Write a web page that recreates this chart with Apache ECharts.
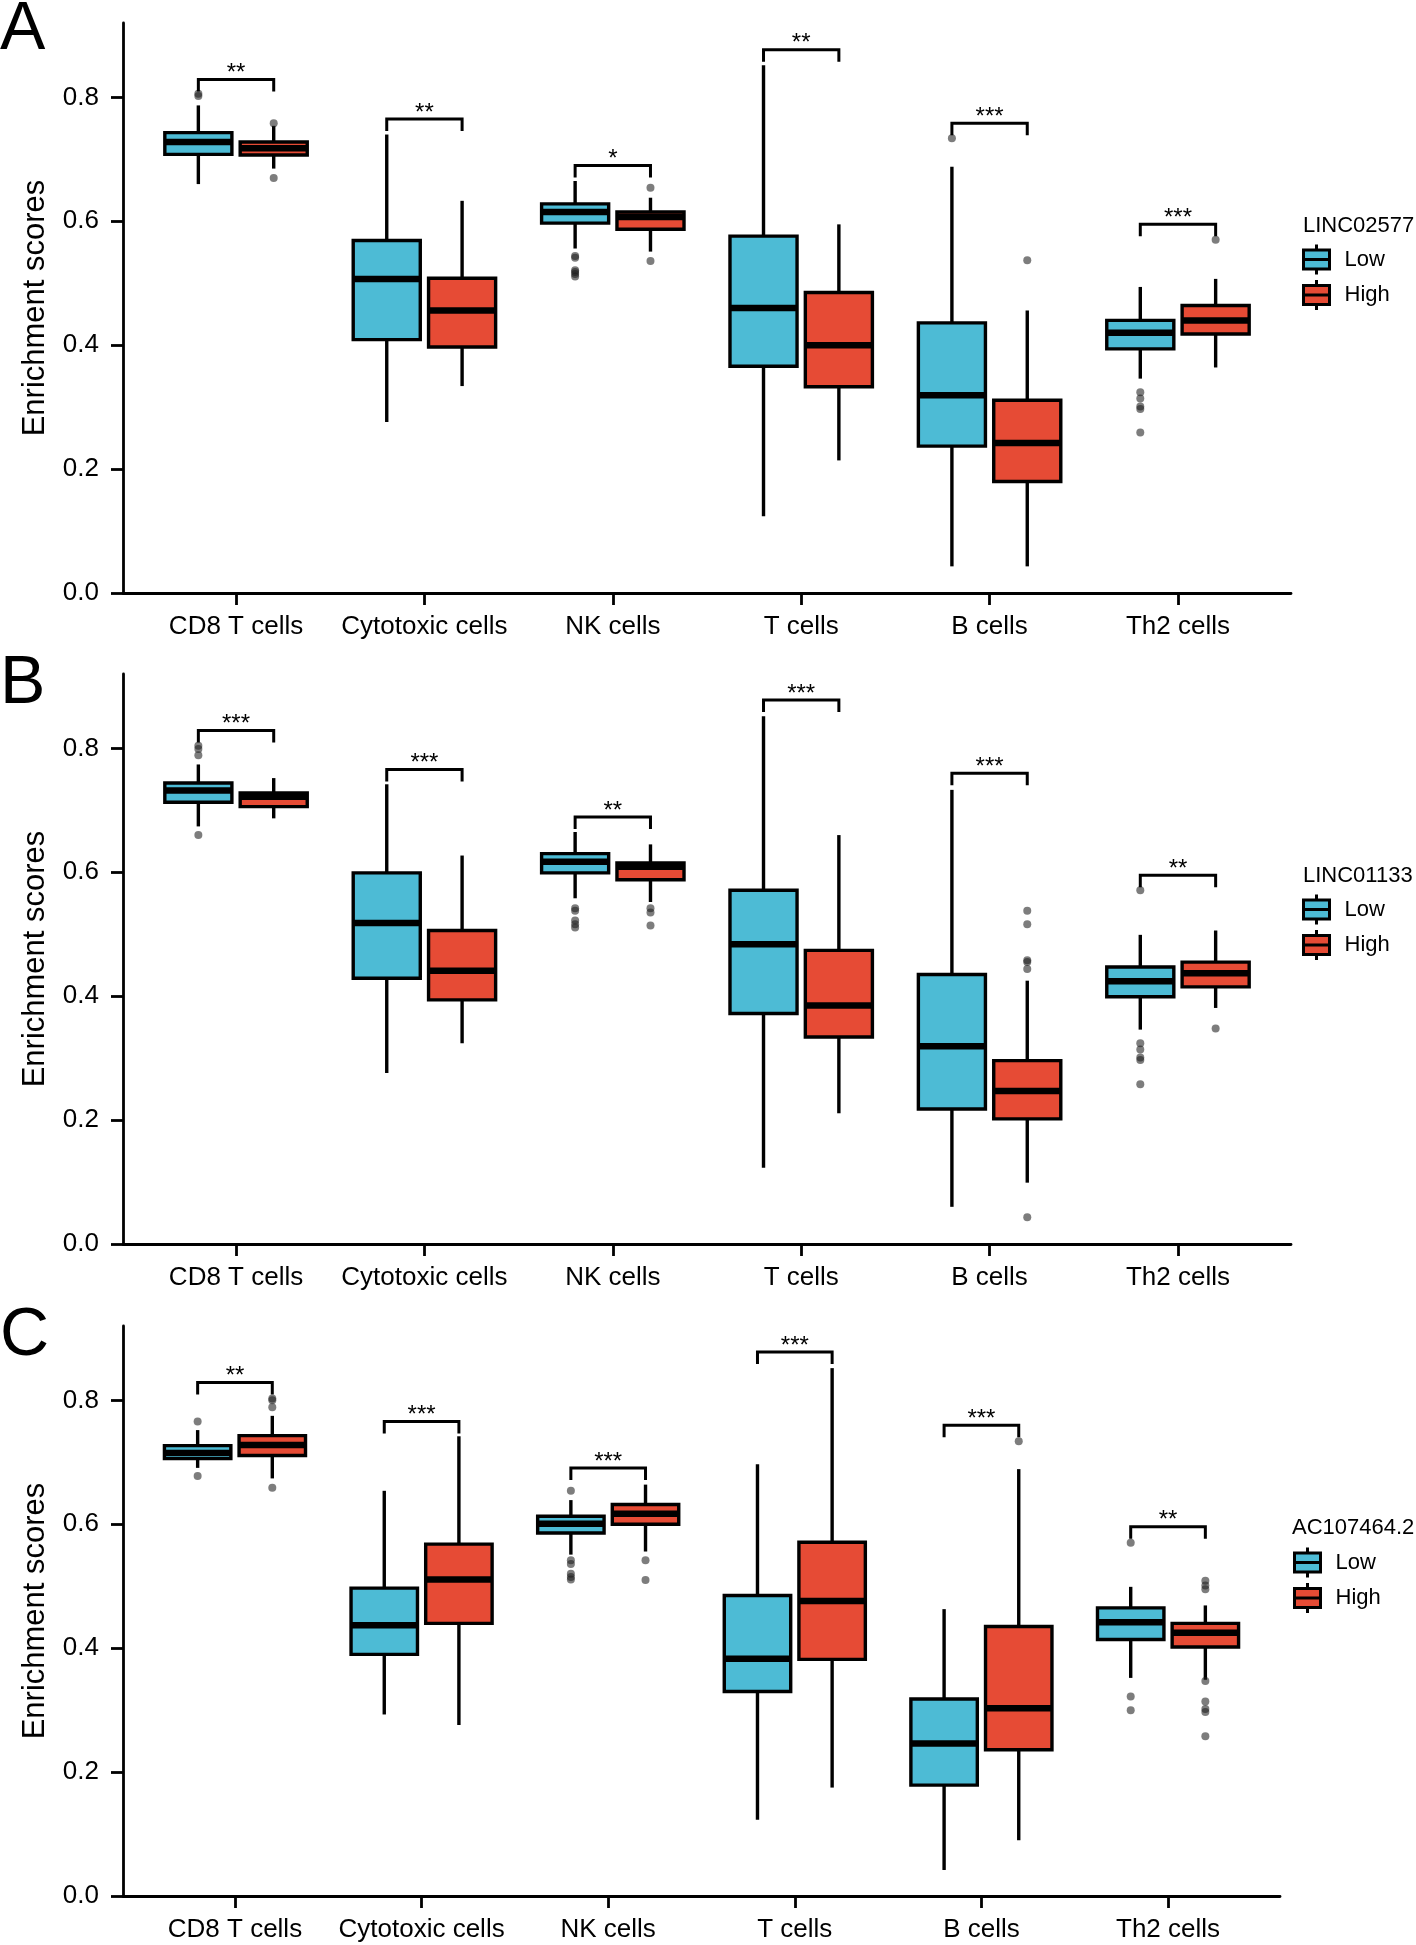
<!DOCTYPE html>
<html>
<head>
<meta charset="utf-8">
<script src="https://cdn.jsdelivr.net/npm/echarts@6/dist/echarts.min.js"></script>
<style>
html,body{margin:0;padding:0;background:#fff;}
#chart{width:1416px;height:1945px;}
</style>
</head>
<body>
<div id="chart"></div>
<script>
// ---------- DATA ----------
const categories = ['CD8 T cells', 'Cytotoxic cells', 'NK cells', 'T cells', 'B cells', 'Th2 cells'];
const yTicks = [0, 0.2, 0.4, 0.6, 0.8];
const groups = ['Low', 'High'];

// Each box: [min whisker, Q1, median, Q3, max whisker]
// Panel A: LINC02577
const A_low = [
  [0.660, 0.708, 0.728, 0.743, 0.787],
  [0.276, 0.409, 0.507, 0.569, 0.740],
  [0.556, 0.597, 0.615, 0.628, 0.665],
  [0.124, 0.366, 0.460, 0.576, 0.852],
  [0.043, 0.237, 0.319, 0.436, 0.688],
  [0.346, 0.394, 0.420, 0.440, 0.494]
];
const A_high = [
  [0.685, 0.707, 0.718, 0.728, 0.754],
  [0.334, 0.397, 0.456, 0.508, 0.633],
  [0.551, 0.587, 0.607, 0.615, 0.638],
  [0.214, 0.333, 0.400, 0.485, 0.595],
  [0.043, 0.180, 0.242, 0.311, 0.456],
  [0.364, 0.418, 0.440, 0.464, 0.507]
];
// outliers: [category index, value]
const A_lowOut = [[0,0.802],[0,0.806],[2,0.541],[2,0.544],[2,0.521],[2,0.518],[2,0.515],[2,0.511],[4,0.734],[5,0.324],[5,0.314],[5,0.301],[5,0.297],[5,0.259]];
const A_highOut = [[0,0.758],[0,0.670],[2,0.654],[2,0.536],[4,0.537],[5,0.570]];
const A_sig = ['**', '**', '*', '**', '***', '***'];
const A_bracket = [0.829, 0.765, 0.690, 0.877, 0.758, 0.595];

// Panel B: LINC01133
const B_low = [
  [0.674, 0.713, 0.732, 0.744, 0.774],
  [0.276, 0.429, 0.518, 0.599, 0.742],
  [0.558, 0.599, 0.617, 0.630, 0.665],
  [0.123, 0.372, 0.484, 0.571, 0.852],
  [0.060, 0.218, 0.319, 0.435, 0.733],
  [0.346, 0.399, 0.424, 0.447, 0.499]
];
const B_high = [
  [0.687, 0.706, 0.722, 0.728, 0.752],
  [0.324, 0.394, 0.441, 0.506, 0.627],
  [0.552, 0.588, 0.609, 0.615, 0.645],
  [0.211, 0.334, 0.385, 0.474, 0.660],
  [0.099, 0.202, 0.247, 0.296, 0.425],
  [0.381, 0.415, 0.437, 0.455, 0.506]
];
const B_lowOut = [[0,0.804],[0,0.799],[0,0.789],[0,0.660],[2,0.542],[2,0.538],[2,0.522],[2,0.516],[2,0.511],[5,0.571],[5,0.324],[5,0.314],[5,0.301],[5,0.297],[5,0.258]];
const B_highOut = [[2,0.542],[2,0.535],[2,0.514],[4,0.538],[4,0.516],[4,0.458],[4,0.455],[4,0.444],[4,0.043],[5,0.348]];
const B_sig = ['***', '***', '**', '***', '***', '**'];
const B_bracket = [0.829, 0.766, 0.689, 0.878, 0.760, 0.595];

// Panel C: AC107464.2
const C_low = [
  [0.691, 0.706, 0.715, 0.727, 0.752],
  [0.293, 0.390, 0.437, 0.497, 0.654],
  [0.551, 0.586, 0.601, 0.613, 0.639],
  [0.123, 0.330, 0.383, 0.485, 0.697],
  [0.042, 0.179, 0.246, 0.318, 0.463],
  [0.352, 0.414, 0.442, 0.465, 0.499]
];
const C_high = [
  [0.674, 0.711, 0.728, 0.743, 0.775],
  [0.276, 0.440, 0.511, 0.568, 0.742],
  [0.556, 0.600, 0.617, 0.632, 0.664],
  [0.175, 0.382, 0.476, 0.571, 0.852],
  [0.090, 0.236, 0.303, 0.435, 0.689],
  [0.349, 0.402, 0.425, 0.440, 0.469]
];
const C_lowOut = [[0,0.766],[0,0.678],[2,0.654],[2,0.542],[2,0.536],[2,0.520],[2,0.515],[2,0.511],[5,0.570],[5,0.322],[5,0.300]];
const C_highOut = [[0,0.803],[0,0.800],[0,0.789],[0,0.659],[2,0.542],[2,0.510],[4,0.734],[5,0.509],[5,0.501],[5,0.495],[5,0.347],[5,0.314],[5,0.302],[5,0.297],[5,0.258]];
const C_sig = ['**', '***', '***', '***', '***', '**'];
const C_bracket = [0.829, 0.766, 0.691, 0.878, 0.760, 0.596];

const panelLetters = ['A', 'B', 'C'];
const legendTitles = ['LINC02577', 'LINC01133', 'AC107464.2'];

// ---------- STYLE / LAYOUT ----------
const FONT = '"Liberation Sans", Arial, Helvetica, sans-serif';
const COLORS = { Low: '#4DBBD5', High: '#E64B35' };
const DODGE = 0.2, BOX_HALF = 0.178;
const LW = 3.4, MED_LW = 6.5, AXIS_LW = 2.8;
const panels = [
  { low: A_low, high: A_high, lowOut: A_lowOut, highOut: A_highOut, sig: A_sig, br: A_bracket,
    grid: { left: 123, top: 23, width: 1168, height: 570 }, letterTop: -4, legTitle: { left: 1303, top: 213 }, legend: { left: 1302, top: 243 } },
  { low: B_low, high: B_high, lowOut: B_lowOut, highOut: B_highOut, sig: B_sig, br: B_bracket,
    grid: { left: 123, top: 674, width: 1168, height: 570 }, letterTop: 650, legTitle: { left: 1303, top: 863 }, legend: { left: 1302, top: 893 } },
  { low: C_low, high: C_high, lowOut: C_lowOut, highOut: C_highOut, sig: C_sig, br: C_bracket,
    grid: { left: 123, top: 1326, width: 1157, height: 570 }, letterTop: 1302, legTitle: { left: 1292, top: 1515 }, legend: { left: 1293, top: 1546 } }
];

function boxRender(color) {
  return function (params, api) {
    const x = api.value(0);
    const pMin = api.coord([x, api.value(1)]);
    const pQ1 = api.coord([x, api.value(2)]);
    const pMed = api.coord([x, api.value(3)]);
    const pQ3 = api.coord([x, api.value(4)]);
    const pMax = api.coord([x, api.value(5)]);
    const hw = api.size([BOX_HALF, 0])[0];
    const cx = pMin[0];
    return {
      type: 'group',
      children: [
        { type: 'line', shape: { x1: cx, y1: pQ3[1], x2: cx, y2: pMax[1] }, style: { stroke: '#000', lineWidth: LW } },
        { type: 'line', shape: { x1: cx, y1: pQ1[1], x2: cx, y2: pMin[1] }, style: { stroke: '#000', lineWidth: LW } },
        { type: 'rect', shape: { x: cx - hw, y: pQ3[1], width: 2 * hw, height: pQ1[1] - pQ3[1] },
          style: { fill: color, stroke: '#000', lineWidth: LW } },
        { type: 'line', shape: { x1: cx - hw, y1: pMed[1], x2: cx + hw, y2: pMed[1] }, style: { stroke: '#000', lineWidth: MED_LW } }
      ]
    };
  };
}

function bracketRender(sig) {
  return function (params, api) {
    const x = api.value(0);
    const y = api.value(1);
    const pl = api.coord([x - DODGE, y]);
    const pr = api.coord([x + DODGE, y]);
    const leg = 12;
    return {
      type: 'group',
      children: [
        { type: 'polyline', shape: { points: [[pl[0], pl[1] + leg], [pl[0], pl[1]], [pr[0], pr[1]], [pr[0], pr[1] + leg]] },
          style: { stroke: '#000', lineWidth: 3, fill: null } },
        { type: 'text', x: (pl[0] + pr[0]) / 2, y: pl[1] - 6,
          style: { text: sig[params.dataIndex], fontSize: 24, fontFamily: FONT, fill: '#000', align: 'center', verticalAlign: 'middle' } }
      ]
    };
  };
}

const grid = [], xAxis = [], yAxis = [], series = [], title = [], legend = [];
const legendIcon = 'path://M1,5.5H27V24.5H1Z M1,15H27 M14,0V5.5 M14,24.5V30';

panels.forEach((p, i) => {
  grid.push(p.grid);
  xAxis.push({
    type: 'value', gridIndex: i, min: 0.4, max: 6.6,
    splitLine: { show: false },
    axisLine: { show: true, onZero: false, lineStyle: { color: '#000', width: AXIS_LW } },
    axisTick: { show: true, customValues: [1, 2, 3, 4, 5, 6], length: 12, lineStyle: { color: '#000', width: AXIS_LW } },
    axisLabel: { show: true, customValues: [1, 2, 3, 4, 5, 6], formatter: v => categories[Math.round(v) - 1],
      fontSize: 26, lineHeight: 26, color: '#000', margin: 21, fontFamily: FONT }
  });
  yAxis.push({
    type: 'value', gridIndex: i, min: 0, max: 0.92,
    splitLine: { show: false },
    axisLine: { show: true, onZero: false, lineStyle: { color: '#000', width: AXIS_LW } },
    axisTick: { show: true, customValues: yTicks, length: 12, lineStyle: { color: '#000', width: AXIS_LW } },
    axisLabel: { show: true, customValues: yTicks, formatter: v => Number(v).toFixed(1),
      fontSize: 26, color: '#000', margin: 24, fontFamily: FONT },
    name: 'Enrichment scores', nameLocation: 'middle', nameGap: 72,
    nameTextStyle: { fontSize: 31, lineHeight: 31, color: '#000', fontFamily: FONT }
  });

  [['Low', p.low, p.lowOut, -DODGE], ['High', p.high, p.highOut, DODGE]].forEach(([g, boxes, outs, off]) => {
    series.push({
      type: 'custom', name: g, xAxisIndex: i, yAxisIndex: i,
      itemStyle: { color: COLORS[g] },
      renderItem: boxRender(COLORS[g]),
      encode: { x: 0, y: [1, 2, 3, 4, 5] },
      data: boxes.map((b, k) => [k + 1 + off, b[0], b[1], b[2], b[3], b[4]]),
      z: 2
    });
    series.push({
      type: 'scatter', name: g + ' outliers', xAxisIndex: i, yAxisIndex: i,
      symbol: 'circle', symbolSize: 8,
      itemStyle: { color: 'rgba(30,30,30,0.72)' },
      data: outs.map(o => [o[0] + 1 + off, o[1]]),
      z: 3
    });
  });
  series.push({
    type: 'custom', name: 'significance', xAxisIndex: i, yAxisIndex: i,
    renderItem: bracketRender(p.sig),
    encode: { x: 0, y: 1 },
    data: p.br.map((v, k) => [k + 1, v]),
    z: 4
  });

  title.push({ text: panelLetters[i], left: 0, top: p.letterTop, padding: 0,
    textStyle: { fontSize: 68, lineHeight: 68, fontWeight: 'normal', color: '#000', fontFamily: FONT } });
  title.push({ text: legendTitles[i], left: p.legTitle.left, top: p.legTitle.top, padding: 0,
    textStyle: { fontSize: 22, lineHeight: 26, fontWeight: 'normal', color: '#000', fontFamily: FONT } });
  legend.push({
    left: p.legend.left, top: p.legend.top, orient: 'vertical', padding: 0,
    itemWidth: 28, itemHeight: 30, itemGap: 2.5, selectedMode: false,
    data: groups, icon: legendIcon,
    itemStyle: { borderColor: '#000', borderWidth: 3 },
    textStyle: { fontSize: 22, color: '#000', fontFamily: FONT, padding: [0, 0, 0, 9] }
  });
});

const chart = echarts.init(document.getElementById('chart'), null, { renderer: 'canvas' });
chart.setOption({
  backgroundColor: '#fff',
  animation: false,
  textStyle: { fontFamily: FONT },
  title, legend, grid, xAxis, yAxis, series
});
</script>
</body>
</html>
